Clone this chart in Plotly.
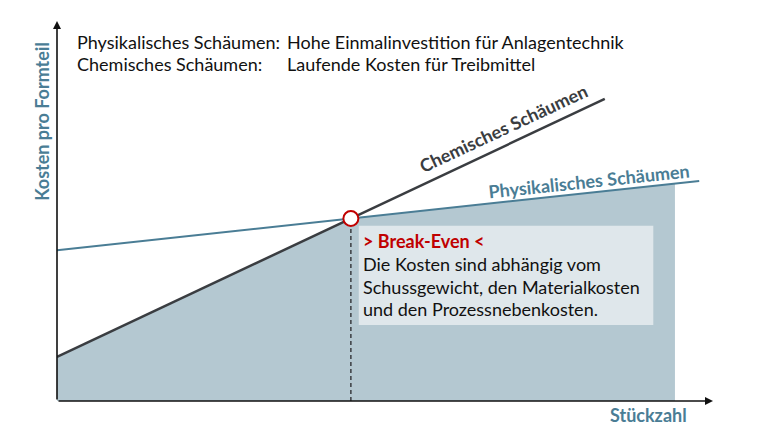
import plotly.graph_objects as go

# Data (abstract units: Stückzahl 0..100, Kosten 0..100)
chem_x = [0, 83.5]
chem_y = [11.6, 79.5]
phys_x = [0, 97.9]
phys_y = [39.7, 57.9]
fill_end_x = 94.2

header_labels = ["Physikalisches Schäumen:", "Chemisches Schäumen:"]
header_texts = ["Hohe Einmalinvestition für Anlagentechnik", "Laufende Kosten für Treibmittel"]
box_title = "> Break-Even <"
box_lines = ["Die Kosten sind abhängig vom",
             "Schussgewicht, den Materialkosten",
             "und den Prozessnebenkosten."]

# derived
cs = (chem_y[1] - chem_y[0]) / (chem_x[1] - chem_x[0])
ps = (phys_y[1] - phys_y[0]) / (phys_x[1] - phys_x[0])
be_x = (phys_y[0] - chem_y[0]) / (cs - ps)
be_y = chem_y[0] + cs * be_x
fill_end_y = phys_y[0] + ps * fill_end_x

TEAL = "#4a7d95"
DARK = "#3a3d41"
FILL = "#b4c8d1"
BOX = "#dfe7eb"
RED = "#c00000"
FONT = "Lato"
FS = 18

fig = go.Figure()
fig.add_trace(go.Scatter(
    x=[0, be_x, fill_end_x, fill_end_x, 0, 0],
    y=[chem_y[0], be_y, fill_end_y, 0, 0, chem_y[0]],
    fill="toself", fillcolor=FILL, line=dict(width=0), mode="lines",
    hoverinfo="skip", showlegend=False))
fig.add_trace(go.Scatter(x=phys_x, y=phys_y, mode="lines",
                         line=dict(color=TEAL, width=2), showlegend=False))
fig.add_trace(go.Scatter(x=chem_x, y=chem_y, mode="lines",
                         line=dict(color=DARK, width=2.5), showlegend=False))
fig.add_trace(go.Scatter(x=[be_x, be_x], y=[0, be_y], mode="lines",
                         line=dict(color=DARK, width=1.5, dash="4px,3px"), showlegend=False))
fig.add_trace(go.Scatter(x=[be_x], y=[be_y], mode="markers",
                         marker=dict(size=15, color="white", line=dict(color=RED, width=2)),
                         showlegend=False))

# text box
fig.add_shape(type="rect", x0=46.0, x1=90.9, y0=20.0, y1=46.1,
              fillcolor=BOX, line=dict(width=0), layer="above")

ann = []
# axis arrows
ann.append(dict(x=0, y=100, ax=0, ay=0, xref="x", yref="y", axref="x", ayref="y",
                showarrow=True, arrowhead=2, arrowsize=1, arrowwidth=1.6,
                arrowcolor="#111111", text=""))
ann.append(dict(x=100, y=0, ax=0, ay=0, xref="x", yref="y", axref="x", ayref="y",
                showarrow=True, arrowhead=2, arrowsize=1, arrowwidth=1.6,
                arrowcolor="#111111", text=""))

# header
hy = [94.6, 88.6]
for i in range(2):
    ann.append(dict(x=2.75, y=hy[i], xref="x", yref="y", xanchor="left", yanchor="middle",
                    text=header_labels[i], showarrow=False,
                    font=dict(family=FONT, size=FS, color="#111111")))
    ann.append(dict(x=34.8, y=hy[i], xref="x", yref="y", xanchor="left", yanchor="middle",
                    text=header_texts[i], showarrow=False,
                    font=dict(family=FONT, size=FS, color="#111111")))

# box text
ann.append(dict(x=46.4, y=42.1, xref="x", yref="y", xanchor="left", yanchor="middle",
                text="<b>" + box_title + "</b>", showarrow=False,
                font=dict(family=FONT, size=FS, color=RED)))
ly = [36.1, 30.0, 24.2]
for t, yy in zip(box_lines, ly):
    ann.append(dict(x=46.4, y=yy, xref="x", yref="y", xanchor="left", yanchor="middle",
                    text=t, showarrow=False,
                    font=dict(family=FONT, size=FS, color="#111111")))

# line labels
ann.append(dict(x=68.1, y=71.8, xref="x", yref="y", text="<b>Chemisches Schäumen</b>",
                showarrow=False, textangle=-25,
                font=dict(family=FONT, size=FS, color=DARK)))
ann.append(dict(x=81.1, y=57.8, xref="x", yref="y", text="<b>Physikalisches Schäumen</b>",
                showarrow=False, textangle=-6,
                font=dict(family=FONT, size=FS, color=TEAL)))

# axis titles (paper coords so they are drawn outside the plot area)
ann.append(dict(x=-0.023, y=0.737, xref="paper", yref="paper", xanchor="center", yanchor="middle",
                text="<b>Kosten pro Formteil</b>",
                showarrow=False, textangle=-90,
                font=dict(family=FONT, size=FS, color=TEAL)))
ann.append(dict(x=0.901, y=-0.037, xref="paper", yref="paper", xanchor="center", yanchor="middle",
                text="<b>Stückzahl</b>",
                showarrow=False,
                font=dict(family=FONT, size=FS, color=TEAL)))

fig.update_layout(
    width=760, height=424,
    margin=dict(l=49, r=55, t=13, b=31),
    paper_bgcolor="white", plot_bgcolor="white",
    xaxis=dict(range=[0, 100], visible=False, fixedrange=True),
    yaxis=dict(range=[0, 100], visible=False, fixedrange=True),
    annotations=ann,
    showlegend=False,
)
fig.write_html("out.html")
